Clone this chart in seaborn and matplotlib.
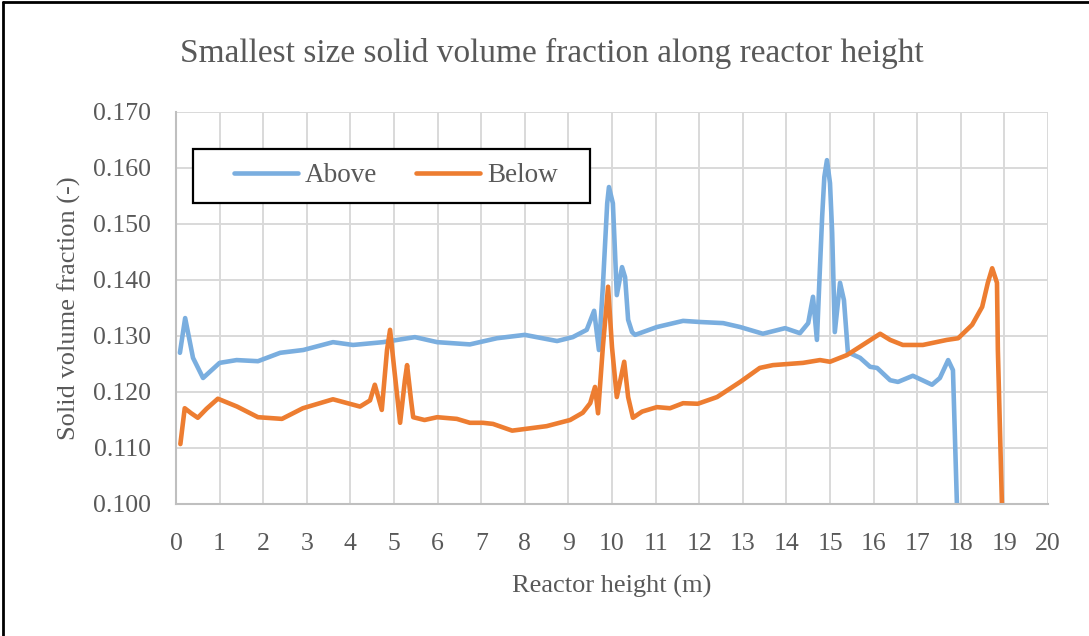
import matplotlib
matplotlib.use("Agg")
import matplotlib.pyplot as plt
from matplotlib.lines import Line2D
from matplotlib.patches import Rectangle
import seaborn as sns
import pandas as pd

# ---- data ----
above_x = [0.09, 0.21, 0.39, 0.62, 1.0, 1.39, 1.88, 2.39, 2.92, 3.6, 4.06, 4.75, 5.48, 5.99,
           6.74, 7.36, 8.0, 8.74, 9.1, 9.42, 9.59, 9.7, 9.79, 9.89, 9.93, 10.02, 10.07, 10.11,
           10.23, 10.30, 10.37, 10.46, 10.53, 11.03, 11.63, 12.02, 12.55, 12.94, 13.46, 13.97,
           14.31, 14.5, 14.61, 14.7, 14.77, 14.82, 14.87, 14.93, 15.0, 15.05, 15.11, 15.23,
           15.32, 15.41, 15.69, 15.92, 16.08, 16.38, 16.56, 16.9, 17.34, 17.52, 17.71, 17.82,
           17.93]
above_y = [0.1270, 0.1332, 0.1261, 0.1225, 0.1252, 0.1257, 0.1255, 0.1270, 0.1275, 0.1289,
           0.1284, 0.1289, 0.1298, 0.1289, 0.1285, 0.1296, 0.1302, 0.1291, 0.1298, 0.1311,
           0.1345, 0.1275, 0.1388, 0.1537, 0.1566, 0.1537, 0.1448, 0.1373, 0.1423, 0.1405,
           0.1329, 0.1307, 0.1302, 0.1316, 0.1327, 0.1325, 0.1323, 0.1316, 0.1304, 0.1314,
           0.1305, 0.1323, 0.1370, 0.1293, 0.1423, 0.1513, 0.1584, 0.1614, 0.1573, 0.1484,
           0.1307, 0.1395, 0.1364, 0.1271, 0.1261, 0.1245, 0.1243, 0.1221, 0.1218, 0.1229,
           0.1213, 0.1225, 0.1257, 0.1239, 0.0950]

below_x = [0.1, 0.2, 0.35, 0.5, 0.7, 0.96, 1.4, 1.88, 2.43, 2.91, 3.6, 4.22, 4.45, 4.56, 4.72,
           4.84, 4.91, 5.0, 5.14, 5.25, 5.3, 5.39, 5.44, 5.7, 5.99, 6.44, 6.74, 7.04, 7.27,
           7.71, 8.5, 9.04, 9.33, 9.5, 9.61, 9.68, 9.79, 9.91, 10.0, 10.11, 10.28, 10.37,
           10.48, 10.69, 11.03, 11.33, 11.63, 11.97, 12.41, 12.94, 13.39, 13.69, 14.38, 14.77,
           15.0, 15.39, 15.85, 16.15, 16.38, 16.67, 17.13, 17.68, 17.94, 18.26, 18.49, 18.62,
           18.72, 18.83, 18.85, 18.96]
below_y = [0.1107, 0.1171, 0.1162, 0.1154, 0.1170, 0.1188, 0.1174, 0.1155, 0.1152, 0.1171,
           0.1187, 0.1174, 0.1185, 0.1213, 0.1168, 0.1275, 0.1311, 0.1245, 0.1145, 0.1221,
           0.1248, 0.1186, 0.1155, 0.1150, 0.1155, 0.1152, 0.1145, 0.1145, 0.1143, 0.1131,
           0.1139, 0.1150, 0.1163, 0.1180, 0.1209, 0.1162, 0.1280, 0.1388, 0.1280, 0.1191,
           0.1254, 0.1191, 0.1154, 0.1165, 0.1173, 0.1171, 0.1180, 0.1179, 0.1191, 0.1218,
           0.1243, 0.1248, 0.1252, 0.1257, 0.1254, 0.1266, 0.1289, 0.1304, 0.1293, 0.1284,
           0.1284, 0.1293, 0.1296, 0.1320, 0.1352, 0.1395, 0.1421, 0.1395, 0.1275, 0.0950]

series_names = ["Above", "Below"]
series_colors = ["#7AAEDF", "#ED7D31"]
x_ticks = list(range(0, 21))
y_ticks = [0.100, 0.110, 0.120, 0.130, 0.140, 0.150, 0.160, 0.170]

title = "Smallest size solid volume fraction along reactor height"
x_label = "Reactor height (m)"
y_label = "Solid volume fraction (-)"

# ---- build table ----
df = pd.concat([
    pd.DataFrame({"x": above_x, "y": above_y, "series": series_names[0]}),
    pd.DataFrame({"x": below_x, "y": below_y, "series": series_names[1]}),
], ignore_index=True)

sns.set_theme(style="white")
plt.rcParams["font.family"] = ["Liberation Serif", "DejaVu Serif"]
text_color = "#595959"

fig = plt.figure(figsize=(10.89, 6.36), dpi=100)
ax = fig.add_axes([176 / 1089, 1 - 504 / 636, (1048 - 176) / 1089, (504 - 112) / 636])

palette = dict(zip(series_names, series_colors))
sns.lineplot(data=df, x="x", y="y", hue="series", palette=palette, sort=False,
             estimator=None, units="series", linewidth=3.3, ax=ax, legend=False,
             solid_joinstyle="round", solid_capstyle="round")

ax.set_xlim(0, 20)
ax.set_ylim(0.100, 0.170)
ax.set_xticks(x_ticks)
ax.set_yticks(y_ticks)
ax.set_yticklabels([f"{v:.3f}" for v in y_ticks])
ax.grid(True, color="#D9D9D9", linewidth=1.4)
ax.set_axisbelow(True)
for s in ["top", "right"]:
    ax.spines[s].set_visible(False)
for s in ["left", "bottom"]:
    ax.spines[s].set_color("#BFBFBF")
    ax.spines[s].set_linewidth(1.5)
ax.tick_params(axis="both", length=0, labelsize=18.5, colors=text_color)
ax.tick_params(axis="x", pad=21)
ax.tick_params(axis="y", pad=18)

ax.set_xlabel(x_label, fontsize=19, color=text_color, labelpad=14)
ax.set_ylabel(y_label, fontsize=19, color=text_color, labelpad=9)

fig.text(552 / 1089, 1 - 53 / 636, title, ha="center", va="center",
         fontsize=24, color=text_color)

# legend box
rect = Rectangle((17 / 872, 301 / 392), 397 / 872, 54 / 392, transform=ax.transAxes,
                 facecolor="white", edgecolor="black", linewidth=1.6, zorder=4.5)
ax.add_patch(rect)
handles = [Line2D([], [], color=c, linewidth=3.3, solid_capstyle="round") for c in series_colors]
leg = ax.legend(handles, series_names, loc="center", bbox_to_anchor=(220 / 872, 0.837),
                ncol=2, frameon=False, fontsize=19.5, handlelength=2.35, handletextpad=0.25,
                columnspacing=1.45, labelcolor=text_color)
leg.set_zorder(5)

# outer chart frame (left and top edges)
fig.add_artist(Line2D([3 / 1089, 3 / 1089], [0, 1 - 2 / 636], color="black",
                      linewidth=2, transform=fig.transFigure))
fig.add_artist(Line2D([3 / 1089, 1], [1 - 2 / 636, 1 - 2 / 636], color="black",
                      linewidth=2, transform=fig.transFigure))

fig.savefig("out.png", dpi=100)
